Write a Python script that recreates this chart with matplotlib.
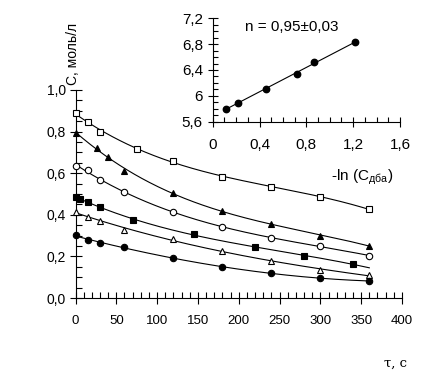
import numpy as np
import matplotlib
matplotlib.use("Agg")
import matplotlib.pyplot as plt
from matplotlib.ticker import MultipleLocator, FuncFormatter

# ---- data: main plot (time, s ; concentration, mol/L) ----
t_sq_open = [0, 15, 30, 75, 120, 180, 240, 300, 360]
c_sq_open = [0.888, 0.848, 0.800, 0.716, 0.660, 0.583, 0.535, 0.487, 0.426]

t_tri_fill = [0, 26, 40, 60, 120, 180, 240, 300, 360]
c_tri_fill = [0.795, 0.720, 0.680, 0.612, 0.503, 0.418, 0.356, 0.300, 0.251]

t_circ_open = [0, 15, 30, 60, 120, 180, 240, 300, 360]
c_circ_open = [0.635, 0.615, 0.567, 0.511, 0.412, 0.340, 0.290, 0.250, 0.203]

t_sq_fill = [0, 5, 15, 30, 70, 145, 220, 280, 340]
c_sq_fill = [0.487, 0.474, 0.463, 0.439, 0.375, 0.306, 0.247, 0.202, 0.163]

t_tri_open = [0, 15, 30, 60, 120, 180, 240, 300, 360]
c_tri_open = [0.415, 0.391, 0.370, 0.327, 0.284, 0.226, 0.178, 0.135, 0.109]

t_circ_fill = [0, 15, 30, 60, 120, 180, 240, 300, 360]
c_circ_fill = [0.303, 0.279, 0.263, 0.244, 0.194, 0.148, 0.119, 0.095, 0.082]

# ---- data: inset ----
x_inset = [0.114, 0.213, 0.452, 0.717, 0.865, 1.215]
y_inset = [5.797, 5.890, 6.106, 6.338, 6.524, 6.829]
inset_text = "n = 0,95±0,03"

FONT = "Liberation Sans"
plt.rcParams['font.family'] = [FONT, 'DejaVu Sans']

fig = plt.figure(figsize=(4.37, 3.81), dpi=100)
ax = fig.add_axes([0.1728, 0.2178, 0.747, 0.546])

def comma(v, pos, nd=1):
    return f"{v:.{nd}f}".replace(".", ",")

def style_axes(a):
    for s in ['top', 'right']:
        a.spines[s].set_visible(False)
    for s in ['left', 'bottom']:
        a.spines[s].set_linewidth(0.8)
    a.tick_params(which='major', direction='inout', length=8, width=0.8)
    a.tick_params(which='minor', direction='in', length=4, width=0.8)

series = [
    (t_sq_open, c_sq_open, 's', 'white'),
    (t_tri_fill, c_tri_fill, '^', 'black'),
    (t_circ_open, c_circ_open, 'o', 'white'),
    (t_sq_fill, c_sq_fill, 's', 'black'),
    (t_tri_open, c_tri_open, '^', 'white'),
    (t_circ_fill, c_circ_fill, 'o', 'black'),
]
for t, c, m, fc in series:
    p = np.polyfit(t, c, 3)
    tend = np.linspace(0, max(t) + (20 if max(t) < 360 else 0), 200)
    ax.plot(tend, np.polyval(p, tend), color='black', lw=0.8, zorder=2)
    ax.plot(t, c, linestyle='none', marker=m, markersize=4.6, clip_on=False,
            markerfacecolor=fc, markeredgecolor='black', markeredgewidth=0.8, zorder=3)

ax.set_xlim(0, 400)
ax.set_ylim(0, 1.0)
style_axes(ax)
ax.xaxis.set_major_locator(MultipleLocator(50))
ax.xaxis.set_minor_locator(MultipleLocator(10))
ax.yaxis.set_major_locator(MultipleLocator(0.2))
ax.yaxis.set_minor_locator(MultipleLocator(0.05))
ax.yaxis.set_major_formatter(FuncFormatter(lambda v, p: comma(v, p, 1)))
ax.xaxis.set_major_formatter(FuncFormatter(lambda v, p: f"{v:.0f}"))
ax.tick_params(axis='x', labelsize=9.5, pad=8)
ax.tick_params(axis='y', labelsize=10, pad=3)

fig.text(73 / 437, 1 - 85 / 381, "C, моль/л", rotation=90, fontsize=10,
         ha='center', va='bottom')
fig.text(395 / 437, 1 - 363 / 381, "τ, с", fontsize=9.5, family='DejaVu Serif',
         ha='center', va='center')

# ---- inset ----
ins = fig.add_axes([0.4867, 0.6806, 0.4286, 0.2714])
ins.patch.set_alpha(0)
pi = np.polyfit(x_inset, y_inset, 1)
xl = np.array([min(x_inset), max(x_inset)])
ins.plot(xl, np.polyval(pi, xl), color='black', lw=0.8)
ins.plot(x_inset, y_inset, 'o', color='black', markersize=4.6)
ins.set_xlim(0, 1.6)
ins.set_ylim(5.6, 7.2)
style_axes(ins)
ins.tick_params(which='major', length=7)
ins.tick_params(which='minor', length=3.5)
ins.xaxis.set_major_locator(MultipleLocator(0.4))
ins.xaxis.set_minor_locator(MultipleLocator(0.1))
ins.yaxis.set_major_locator(MultipleLocator(0.4))
ins.yaxis.set_minor_locator(MultipleLocator(0.1))

def ifmt(v, p):
    s = f"{v:.1f}"
    if s.endswith(".0"):
        s = s[:-2]
    return s.replace(".", ",")

ins.xaxis.set_major_formatter(FuncFormatter(ifmt))
ins.yaxis.set_major_formatter(FuncFormatter(ifmt))
ins.tick_params(axis='both', labelsize=11)
ins.tick_params(axis='x', pad=8)
ins.text(0.28, 7.07, inset_text, fontsize=11, ha='left', va='center')
fig.text(393 / 437, 1 - 177 / 381, "-ln (C$_{\\mathregular{дба}}$)", fontsize=11,
         ha='right', va='center')

fig.savefig("out.png", dpi=100)
